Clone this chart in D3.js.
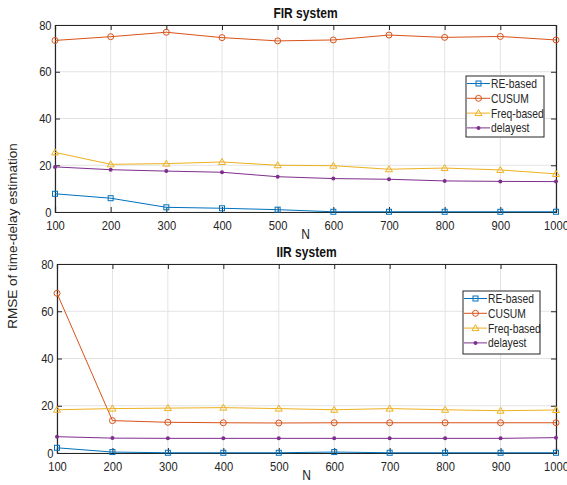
<!DOCTYPE html>
<html><head><meta charset="utf-8">
<script src="https://cdn.jsdelivr.net/npm/d3@7"></script>
<style>body{margin:0;background:#fff}svg{display:block}text{font-family:"Liberation Sans",Arial,sans-serif}</style>
</head><body><svg id="c" width="567" height="485"></svg>
<script>
const N = [100,200,300,400,500,600,700,800,900,1000];
const seriesNames = ["RE-based","CUSUM","Freq-based","delayest"];
const firRE = [7.8,5.9,2.0,1.6,1.0,0.1,0.1,0.1,0.1,0.1];
const firCUSUM = [73.4,75.0,76.9,74.6,73.2,73.6,75.7,74.7,75.1,73.6];
const firFreq = [25.5,20.4,20.7,21.4,20.0,19.8,18.3,18.8,18.0,16.3];
const firDelay = [19.3,18.1,17.5,17.0,15.1,14.3,14.0,13.3,13.1,13.0];
const iirRE = [2.2,0.4,0.1,0.1,0.1,0.4,0.1,0.1,0.1,0.1];
const iirCUSUM = [67.6,13.7,13.0,12.8,12.7,12.8,12.8,12.8,12.8,12.8];
const iirFreq = [18.3,18.8,19.0,19.2,18.8,18.3,18.8,18.3,17.9,18.2];
const iirDelay = [6.9,6.3,6.2,6.2,6.2,6.2,6.2,6.2,6.2,6.5];
const yTicks = [0,20,40,60,80];
const colors = ["#0072BD","#D95319","#EDB120","#7E2F8E"];
const markers = ["square","circle","triangle","dot"];

const svg = d3.select("#c");
const SX = 0.86; // condensed look

function drawMarker(g, type, x, y, color){
  if(type==="square") g.append("rect").attr("x",x-2.5).attr("y",y-2.5).attr("width",5).attr("height",5).attr("fill","none").attr("stroke",color).attr("stroke-width",1);
  else if(type==="circle") g.append("circle").attr("cx",x).attr("cy",y).attr("r",3).attr("fill","none").attr("stroke",color).attr("stroke-width",1);
  else if(type==="triangle") g.append("path").attr("d",`M${x},${y-3.5}L${x+3.5},${y+2.5}L${x-3.5},${y+2.5}Z`).attr("fill","none").attr("stroke",color).attr("stroke-width",1);
  else g.append("circle").attr("cx",x).attr("cy",y).attr("r",2).attr("fill",color);
}

function condText(parent, x, y, str, size, opts={}){
  const t = parent.append("g").attr("transform",`translate(${x},${y}) scale(${SX},1)`)
    .append("text").attr("font-size",size).attr("fill",opts.fill||"#262626").text(str);
  if(opts.anchor) t.attr("text-anchor",opts.anchor);
  if(opts.bold) t.attr("font-weight","bold");
  return t;
}

function panel(cfg){
  const {left,right,top,bottom,title,data,legend} = cfg;
  const x = d3.scaleLinear().domain([100,1000]).range([left,right]);
  const y = d3.scaleLinear().domain([0,80]).range([bottom,top]);
  const g = svg.append("g");
  g.append("g").selectAll("line").data(N).join("line")
    .attr("x1",d=>x(d)).attr("x2",d=>x(d)).attr("y1",top).attr("y2",bottom)
    .attr("stroke","#e3e3e3").attr("stroke-width",1);
  g.append("g").selectAll("line").data(yTicks).join("line")
    .attr("y1",d=>y(d)).attr("y2",d=>y(d)).attr("x1",left).attr("x2",right)
    .attr("stroke","#e3e3e3").attr("stroke-width",1);
  g.append("g").attr("transform",`translate(0,${bottom})`)
    .call(d3.axisBottom(x).tickValues(N).tickSize(-5).tickPadding(9).tickFormat(d3.format("d")));
  g.append("g").attr("transform",`translate(${left},0)`)
    .call(d3.axisLeft(y).tickValues(yTicks).tickSize(-5).tickPadding(4));
  g.append("g").attr("transform",`translate(0,${top})`)
    .call(d3.axisTop(x).tickValues(N).tickSize(-5).tickFormat(""));
  g.append("g").attr("transform",`translate(${right},0)`)
    .call(d3.axisRight(y).tickValues(yTicks).tickSize(-5).tickFormat(""));
  g.selectAll(".domain").attr("stroke","#262626").attr("stroke-width",1.2);
  g.selectAll(".tick line").attr("stroke","#262626");
  g.selectAll(".tick text").attr("font-size",13).attr("fill","#262626")
    .attr("font-family","Liberation Sans, Arial, sans-serif")
    .attr("transform",`scale(${SX},1)`);
  condText(g,(left+right)/2,top-7,title,14,{anchor:"middle",bold:true,fill:"#111"});
  condText(g,(left+right)/2,bottom+27,"N",14,{anchor:"middle"});
  const line = d3.line().x((d,i)=>x(N[i])).y(d=>y(d));
  data.forEach((s,k)=>{
    g.append("path").attr("d",line(s)).attr("fill","none").attr("stroke",colors[k]).attr("stroke-width",1);
    s.forEach((v,i)=>drawMarker(g,markers[k],x(N[i]),y(v),colors[k]));
  });
  const lg = g.append("g");
  lg.append("rect").attr("x",legend.x).attr("y",legend.y).attr("width",legend.w).attr("height",legend.h)
    .attr("fill","#fff").attr("stroke","#262626").attr("stroke-width",1);
  seriesNames.forEach((nm,k)=>{
    const yy = legend.y + 7.5 + k*14.8;
    lg.append("line").attr("x1",legend.x+1).attr("x2",legend.x+24).attr("y1",yy).attr("y2",yy).attr("stroke",colors[k]).attr("stroke-width",1);
    drawMarker(lg,markers[k],legend.x+12.5,yy,colors[k]);
    condText(lg,legend.x+25,yy+4.5,nm,12);
  });
}

panel({left:55,right:556,top:25,bottom:212,title:"FIR system",
  data:[firRE,firCUSUM,firFreq,firDelay],legend:{x:466,y:76,w:78,h:61}});
panel({left:57,right:556,top:264,bottom:453,title:"IIR system",
  data:[iirRE,iirCUSUM,iirFreq,iirDelay],legend:{x:463,y:291,w:77,h:63}});

svg.append("text").attr("transform","translate(17,236) rotate(-90)").attr("text-anchor","middle")
  .attr("font-size",13.5).attr("fill","#262626").text("RMSE of time-delay estimation");
</script></body></html>
